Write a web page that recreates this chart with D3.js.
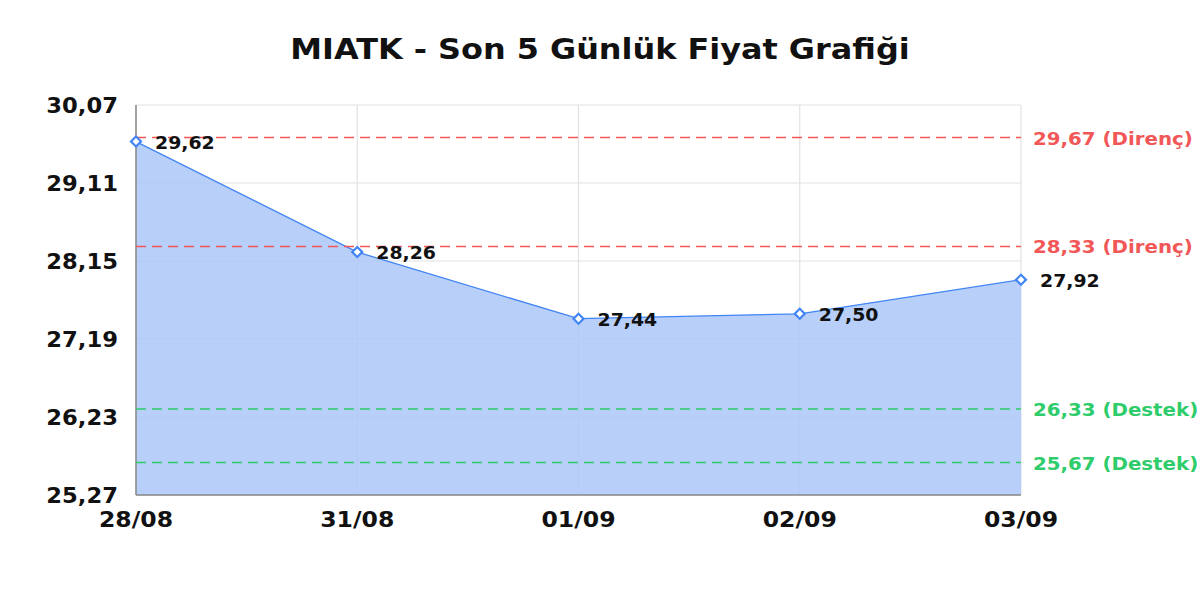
<!DOCTYPE html>
<html lang="tr">
<head>
    <meta charset="UTF-8">
    <title>MIATK - Son 5 Günlük Fiyat Grafiği</title>
    <script src="https://d3js.org/d3.v7.min.js"></script>
    <style>
        body { margin: 0; background: #fff; }
        text { font-family: "DejaVu Sans", sans-serif; font-weight: bold; }
    </style>
</head>
<body>
    <svg id="chart" width="1200" height="600"></svg>
    <script>
        const dates = ["28/08", "31/08", "01/09", "02/09", "03/09"];
        const prices = [29.62, 28.26, 27.44, 27.50, 27.92];
        const yTicks = [25.27, 26.23, 27.19, 28.15, 29.11, 30.07];
        const resistance = [29.67, 28.33];
        const support = [26.33, 25.67];

        const svg = d3.select("#chart");
        const m = { left: 136, right: 1021, top: 105, bottom: 495 };
        const fmt = v => v.toFixed(2).replace(".", ",");
        // text in the original is a bit wider than DejaVu Bold, so stretch it horizontally
        const place = (sx) => (tx, ty) => `translate(${tx},${ty}) scale(${sx},1)`;

        const x = d3.scalePoint().domain(dates).range([m.left, m.right]);
        const y = d3.scaleLinear().domain([25.27, 30.07]).range([m.bottom, m.top]);

        // grid
        svg.append("g").selectAll("line").data(yTicks).enter().append("line")
            .attr("x1", m.left).attr("x2", m.right)
            .attr("y1", d => y(d)).attr("y2", d => y(d))
            .attr("stroke", "#e2e2e2").attr("stroke-width", 1.2);
        svg.append("g").selectAll("line").data(dates).enter().append("line")
            .attr("x1", d => x(d)).attr("x2", d => x(d))
            .attr("y1", m.top).attr("y2", m.bottom)
            .attr("stroke", "#e2e2e2").attr("stroke-width", 1.2);

        // area + line
        const pts = dates.map((d, i) => [x(d), y(prices[i])]);
        svg.append("path")
            .attr("d", d3.area().x(p => p[0]).y0(m.bottom).y1(p => p[1])(pts))
            .attr("fill", "#aac7f8").attr("fill-opacity", 0.85);
        svg.append("path")
            .attr("d", d3.line()(pts))
            .attr("fill", "none").attr("stroke", "#4285f4").attr("stroke-width", 1.3);

        // axes lines
        svg.append("line").attr("x1", m.left).attr("x2", m.left).attr("y1", m.top).attr("y2", m.bottom)
            .attr("stroke", "#888").attr("stroke-width", 1.5);
        svg.append("line").attr("x1", m.left).attr("x2", m.right).attr("y1", m.bottom).attr("y2", m.bottom)
            .attr("stroke", "#888").attr("stroke-width", 1.5);

        // reference lines
        function refLines(vals, color, label) {
            svg.append("g").selectAll("line").data(vals).enter().append("line")
                .attr("x1", m.left).attr("x2", m.right)
                .attr("y1", d => y(d)).attr("y2", d => y(d))
                .attr("stroke", color).attr("stroke-width", 1.5)
                .attr("stroke-dasharray", "10,6");
            svg.append("g").selectAll("text").data(vals).enter().append("text")
                .attr("transform", d => place(1.1)(m.right + 12, y(d) + 7))
                .attr("fill", color).attr("font-size", 18)
                .text(d => fmt(d) + " (" + label + ")");
        }
        refLines(resistance, "#f25757", "Direnç");
        refLines(support, "#2ecc6a", "Destek");

        // markers
        svg.append("g").selectAll("path").data(pts).enter().append("path")
            .attr("d", d3.symbol().type(d3.symbolSquare).size(50))
            .attr("transform", p => `translate(${p[0]},${p[1]}) rotate(45)`)
            .attr("fill", "#fff").attr("stroke", "#4285f4").attr("stroke-width", 2.2);

        // data labels
        svg.append("g").selectAll("text").data(prices).enter().append("text")
            .attr("transform", (d, i) => place(1.05)(x(dates[i]) + 19, y(d) + 7))
            .attr("font-size", 18).attr("fill", "#111")
            .text(fmt);

        // y tick labels
        svg.append("g").selectAll("text").data(yTicks).enter().append("text")
            .attr("transform", d => place(1.03)(118, y(d) + 8))
            .attr("text-anchor", "end").attr("font-size", 22).attr("fill", "#111")
            .text(fmt);

        // x tick labels
        svg.append("g").selectAll("text").data(dates).enter().append("text")
            .attr("transform", d => place(1.07)(x(d), 527))
            .attr("text-anchor", "middle").attr("font-size", 22).attr("fill", "#111")
            .text(d => d);

        // title
        svg.append("text").attr("transform", place(1.1)(600, 59))
            .attr("text-anchor", "middle").attr("font-size", 29).attr("fill", "#111")
            .text("MIATK - Son 5 Günlük Fiyat Grafiği");
    </script>
</body>
</html>
